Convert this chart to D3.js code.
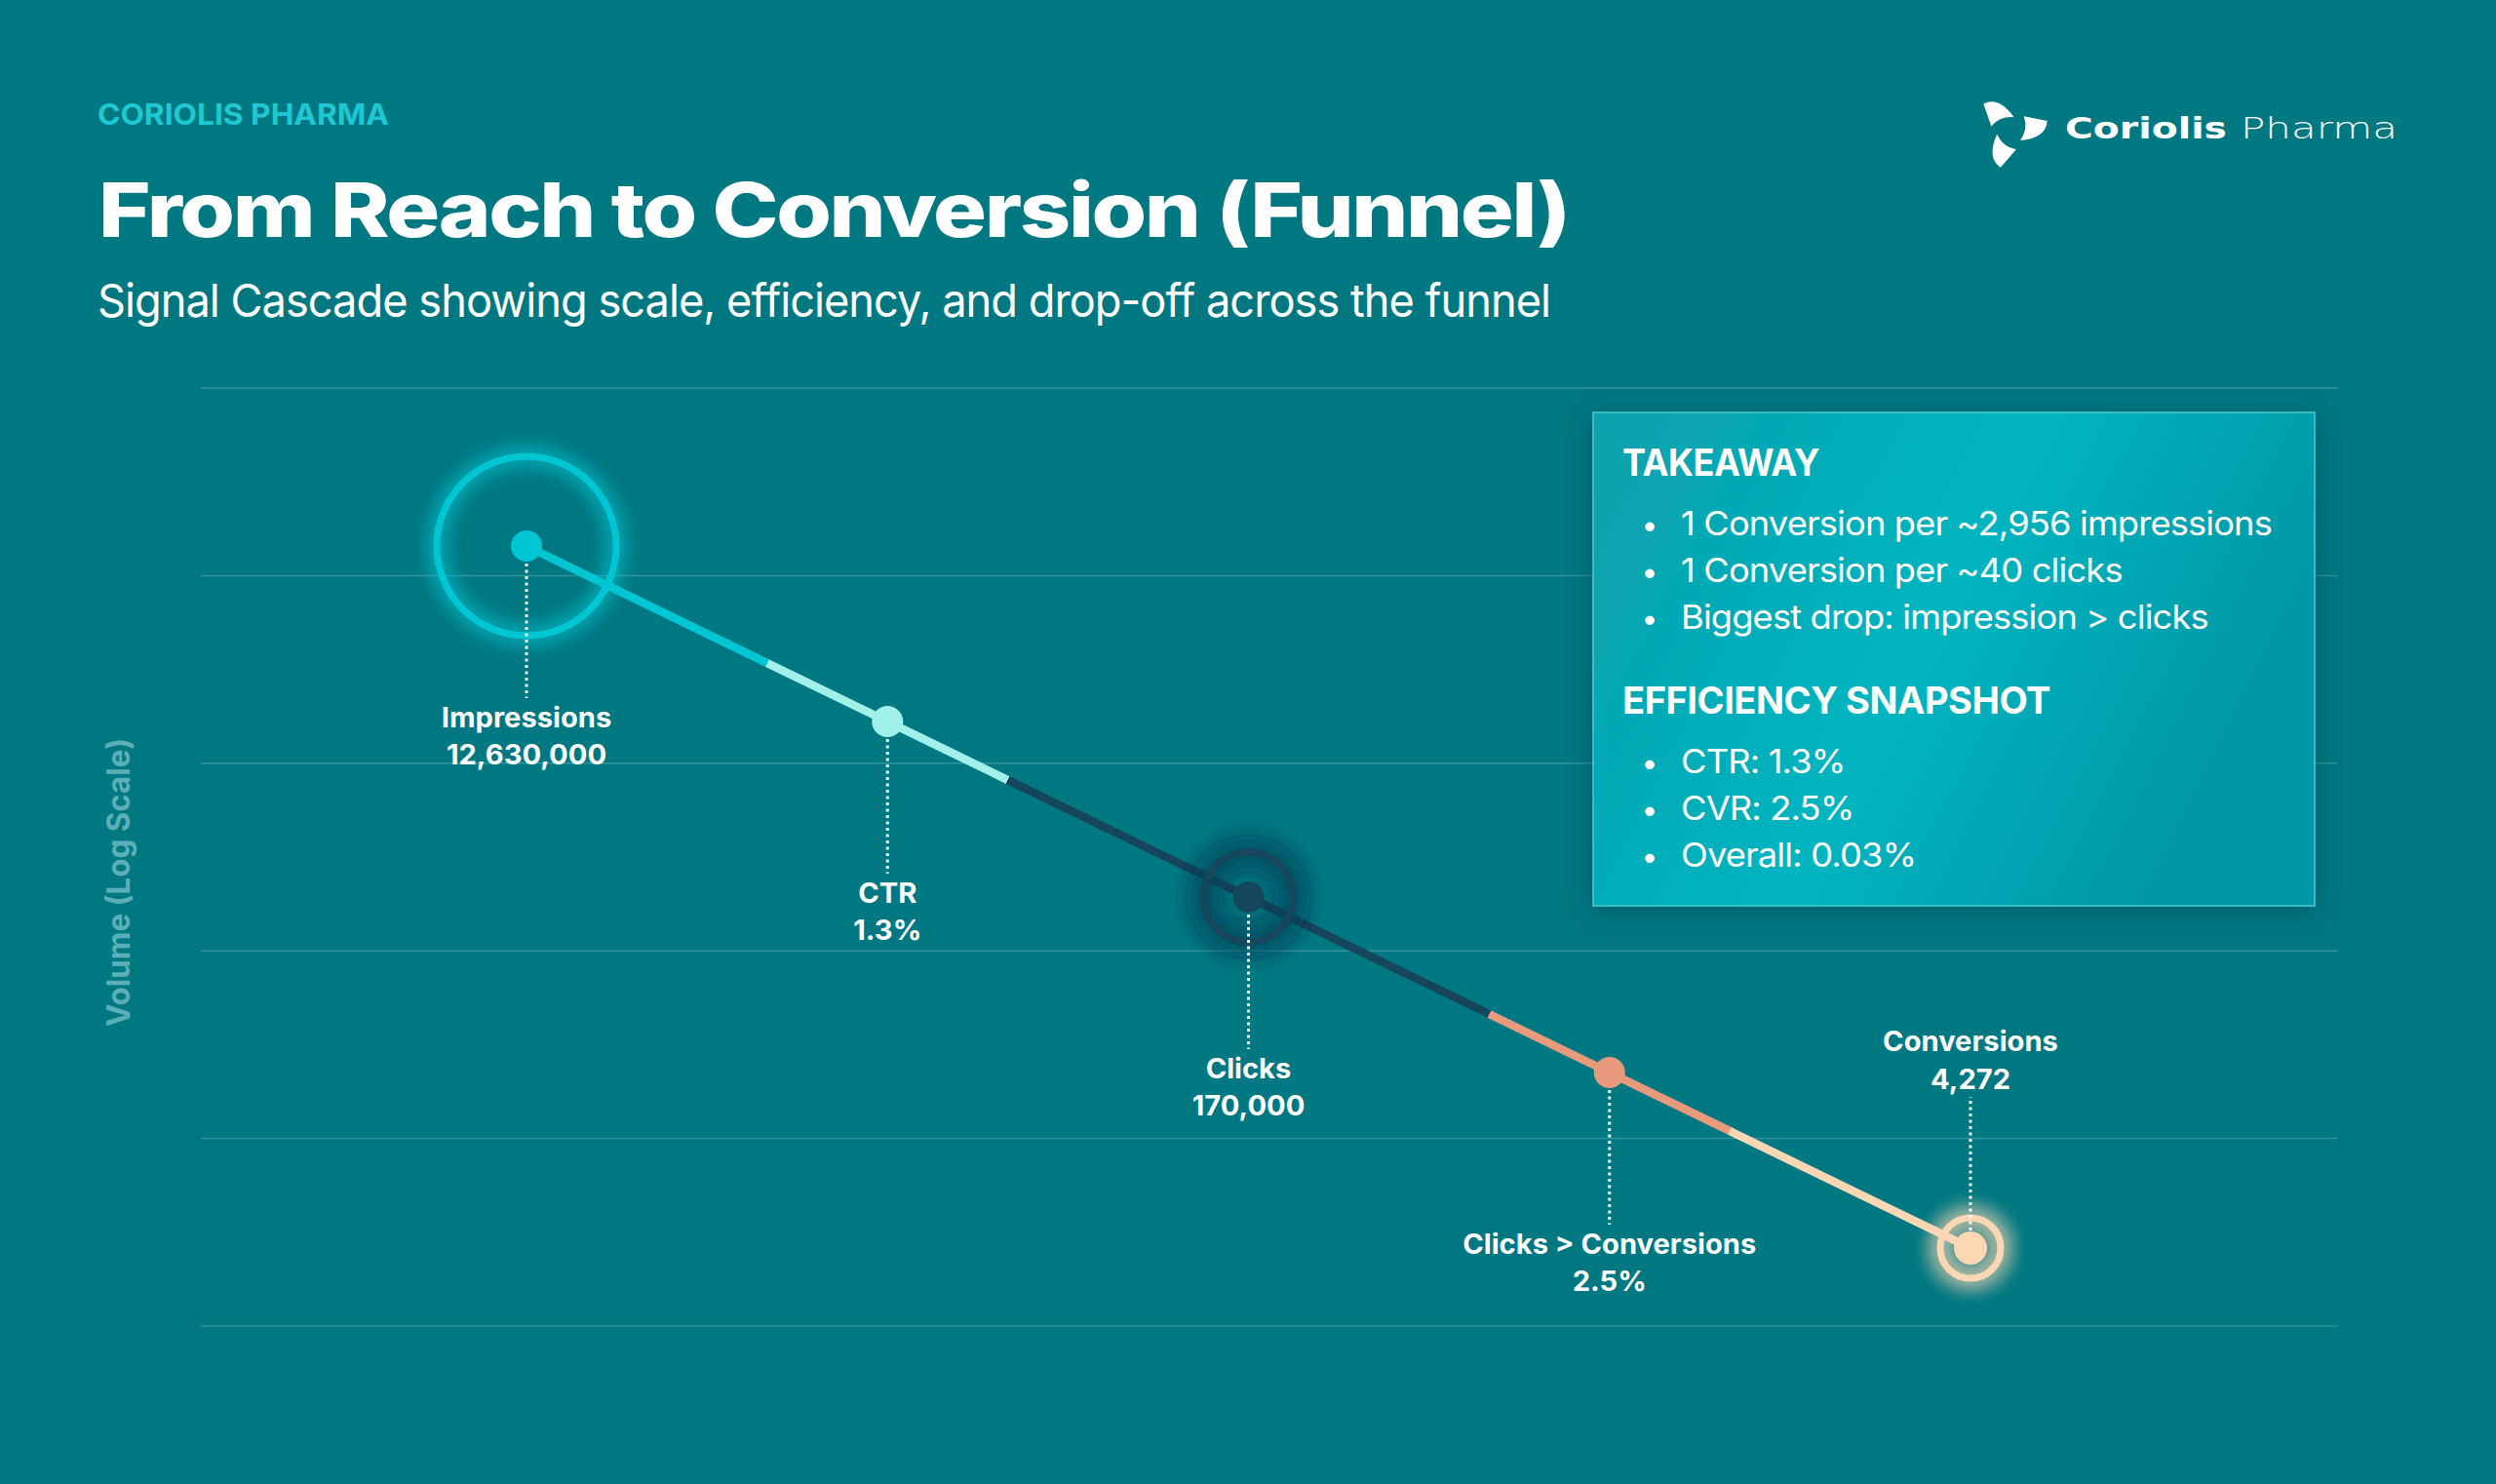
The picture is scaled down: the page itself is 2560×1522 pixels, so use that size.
<!DOCTYPE html>
<html>
<head>
<meta charset="utf-8">
<script src="https://cdn.jsdelivr.net/npm/d3@7"></script>
<style>
  html, body { margin: 0; padding: 0; background: #007882; overflow: hidden; }
  svg { display: block; }
</style>
</head>
<body>
<svg id="chart"></svg>
<script>
// funnel stages, in order
var stages = ["Impressions", "CTR", "Clicks", "Clicks > Conversions", "Conversions"];
var stageKinds = ["volume", "rate", "volume", "rate", "volume"];
var volumes = [12630000, 170000, 4272];
var stageColors = ["#00C6D3", "#A2F0EA", "#16465C", "#E99A7D", "#FBD7B4"];

var W = 2560, H = 1522;
var fmtInt = d3.format(",");
var fmtRate = d3.format(".1%");

// value shown under each stage
var vi = 0;
var stageValues = stages.map(function (s, i) {
  if (stageKinds[i] == "volume") return fmtInt(volumes[vi++]);
  var k = vi - 1;
  return fmtRate(volumes[k + 1] / volumes[k]);
});

var ctr = volumes[1] / volumes[0];
var cvr = volumes[2] / volumes[1];
var overall = volumes[2] / volumes[0];

var takeawayLines = [
  "1 Conversion per ~" + fmtInt(Math.round(volumes[0] / volumes[2])) + " impressions",
  "1 Conversion per ~" + Math.round(volumes[1] / volumes[2]) + " clicks",
  "Biggest drop: impression > clicks"
];
var snapshotLines = [
  "CTR: " + fmtRate(ctr),
  "CVR: " + fmtRate(cvr),
  "Overall: " + d3.format(".2%")(overall)
];

var svg = d3.select("#chart").attr("width", W).attr("height", H);
var defs = svg.append("defs");

svg.append("rect").attr("width", W).attr("height", H).attr("fill", "#007882");

// squeeze/stretch text horizontally so it fits the reference widths
function fitWidth(sel, w) {
  sel.attr("textLength", w).attr("lengthAdjust", "spacingAndGlyphs");
}
function scaleWidth(sel, r) {
  sel.each(function () {
    var n = this.getComputedTextLength();
    d3.select(this).attr("textLength", n * r).attr("lengthAdjust", "spacingAndGlyphs");
  });
}

// ---- header ----
var head = svg.append("text").attr("x", 100).attr("y", 128)
  .attr("font-family", "Inter").attr("font-weight", 700).attr("font-size", 30)
  .attr("fill", "#1EC8D2").text("CORIOLIS PHARMA");
fitWidth(head, 299);

var title = svg.append("text").attr("x", 101).attr("y", 243)
  .attr("font-family", "Inter").attr("font-weight", 800).attr("font-size", 77)
  .attr("letter-spacing", -2)
  .attr("fill", "#ffffff").text("From Reach to Conversion (Funnel)");
fitWidth(title, 1508);

var sub = svg.append("text").attr("x", 100).attr("y", 325)
  .attr("font-family", "Inter").attr("font-weight", 400).attr("font-size", 47)
  .attr("letter-spacing", -1)
  .attr("fill", "#ffffff").text("Signal Cascade showing scale, efficiency, and drop-off across the funnel");
fitWidth(sub, 1490);

// ---- logo ----
var logo = svg.append("g").attr("transform", "translate(2062,134)");
[0, 120, 240].forEach(function (a) {
  logo.append("path")
    .attr("d", "M15,-16 L41,-11 Q40,8 11,11 Q20,-2 15,-16 Z")
    .attr("transform", "rotate(" + a + ") scale(0.92)")
    .attr("fill", "#ffffff");
});
var lt1 = svg.append("text").attr("x", 2118).attr("y", 142)
  .attr("font-family", "DejaVu Sans").attr("font-weight", 700).attr("font-size", 31)
  .attr("fill", "#ffffff").text("Coriolis");
fitWidth(lt1, 166);
var lt2 = svg.append("text").attr("x", 2298).attr("y", 142)
  .attr("font-family", "DejaVu Sans").attr("font-weight", 200).attr("font-size", 31)
  .attr("fill", "#ffffff").text("Pharma");
fitWidth(lt2, 161);

// ---- scales ----
var x = d3.scalePoint().domain(stages).range([540, 2021]);
var y = d3.scalePoint().domain(stages).range([560, 1280]);
var grid = d3.scaleLinear().domain([0, 5]).range([398, 1360]);

svg.append("g").selectAll("line")
  .data(grid.ticks(5))
  .enter().append("line")
  .attr("x1", 206).attr("x2", 2398)
  .attr("y1", function (d) { return grid(d); })
  .attr("y2", function (d) { return grid(d); })
  .attr("stroke", "#ffffff").attr("stroke-opacity", 0.2).attr("stroke-width", 1.5);

// y axis title
var yl = svg.append("text")
  .attr("transform", "translate(133,905) rotate(-90)")
  .attr("text-anchor", "middle")
  .attr("font-family", "Inter").attr("font-weight", 700).attr("font-size", 32)
  .attr("fill", "#5BB0B7").text("Volume (Log Scale)");
fitWidth(yl, 296);

// ---- line with hard colour bands ----
var first = stages[0], last = stages[stages.length - 1];
var grad = defs.append("linearGradient").attr("id", "lineGrad")
  .attr("gradientUnits", "userSpaceOnUse")
  .attr("x1", x(first)).attr("y1", y(first))
  .attr("x2", x(last)).attr("y2", y(last));
var bands = [0, 1 / 6, 1 / 3, 2 / 3, 5 / 6, 1];
stageColors.forEach(function (c, i) {
  grad.append("stop").attr("offset", bands[i]).attr("stop-color", c);
  grad.append("stop").attr("offset", bands[i + 1]).attr("stop-color", c);
});

var line = d3.line()
  .x(function (d) { return x(d); })
  .y(function (d) { return y(d); });

svg.append("path").datum(stages)
  .attr("d", line)
  .attr("fill", "none")
  .attr("stroke", "url(#lineGrad)")
  .attr("stroke-width", 8.5);

// glow filters
function glowFilter(id, sd, n) {
  var f = defs.append("filter").attr("id", id)
    .attr("x", "-80%").attr("y", "-80%").attr("width", "260%").attr("height", "260%");
  f.append("feGaussianBlur").attr("in", "SourceGraphic").attr("stdDeviation", sd).attr("result", "b");
  var m = f.append("feMerge");
  for (var i = 0; i < n; i++) m.append("feMergeNode").attr("in", "b");
  m.append("feMergeNode").attr("in", "SourceGraphic");
}
glowFilter("glowImp", 10, 2);
glowFilter("glowClicks", 13, 4);
glowFilter("glowConv", 11, 3);

// rings round the volume stages
var ringR = { "Impressions": 92, "Clicks": 46, "Conversions": 31 };
var ringGlow = { "Impressions": "glowImp", "Clicks": "glowClicks", "Conversions": "glowConv" };
svg.append("g").selectAll("circle")
  .data(stages.filter(function (s) { return ringR[s]; }))
  .enter().append("circle")
  .attr("cx", function (d) { return x(d); })
  .attr("cy", function (d) { return y(d); })
  .attr("r", function (d) { return ringR[d]; })
  .attr("fill", "none")
  .attr("stroke", function (d) { return stageColors[stages.indexOf(d)]; })
  .attr("stroke-width", 7)
  .attr("filter", function (d) { return "url(#" + ringGlow[d] + ")"; });

// leader lines
var below = function (d) { return d != last; };
svg.append("g").selectAll("line")
  .data(stages)
  .enter().append("line")
  .attr("x1", function (d) { return x(d); })
  .attr("x2", function (d) { return x(d); })
  .attr("y1", function (d) { return y(d) + (below(d) ? 18 : -18); })
  .attr("y2", function (d) { return y(d) + (below(d) ? 156 : -155); })
  .attr("stroke", "#ffffff").attr("stroke-width", 3)
  .attr("stroke-dasharray", "3 3.5").attr("stroke-opacity", 0.95);

// dots
svg.append("g").selectAll("circle")
  .data(stages)
  .enter().append("circle")
  .attr("cx", function (d) { return x(d); })
  .attr("cy", function (d) { return y(d); })
  .attr("r", function (d) { return d == last ? 17 : 16; })
  .attr("fill", function (d, i) { return stageColors[i]; });

// labels
var lab = svg.append("g").selectAll("text")
  .data(stages)
  .enter().append("text")
  .attr("text-anchor", "middle")
  .attr("font-family", "Inter").attr("font-weight", 700).attr("font-size", 28)
  .attr("fill", "#ffffff");
lab.append("tspan")
  .attr("x", function (d) { return x(d); })
  .attr("y", function (d) { return y(d) + (below(d) ? 186 : -202); })
  .text(function (d) { return d; });
lab.append("tspan")
  .attr("x", function (d) { return x(d); })
  .attr("y", function (d) { return y(d) + (below(d) ? 224 : -163); })
  .text(function (d, i) { return stageValues[i]; });

// ---- takeaway box ----
var shadow = defs.append("filter").attr("id", "boxShadow")
  .attr("x", "-20%").attr("y", "-20%").attr("width", "140%").attr("height", "140%");
shadow.append("feDropShadow").attr("dx", 0).attr("dy", 4).attr("stdDeviation", 14)
  .attr("flood-color", "#003E45").attr("flood-opacity", 0.5);

var boxGrad = defs.append("linearGradient").attr("id", "boxGrad")
  .attr("x1", 0).attr("y1", 0).attr("x2", 1).attr("y2", 0.35);
boxGrad.append("stop").attr("offset", 0).attr("stop-color", "#0AA1AD");
boxGrad.append("stop").attr("offset", 0.55).attr("stop-color", "#00B5C0");
boxGrad.append("stop").attr("offset", 1).attr("stop-color", "#0497A7");

var box = svg.append("g");
box.append("rect")
  .attr("x", 1634).attr("y", 423).attr("width", 740).attr("height", 506)
  .attr("fill", "url(#boxGrad)")
  .attr("stroke", "#48CBD2").attr("stroke-width", 1.5)
  .attr("filter", "url(#boxShadow)");

function section(heading, hy, hw, lines, ly) {
  var h = box.append("text").attr("x", 1664).attr("y", hy)
    .attr("font-family", "Inter").attr("font-weight", 700).attr("font-size", 38)
    .attr("letter-spacing", -0.5)
    .attr("fill", "#ffffff").text(heading);
  fitWidth(h, hw);
  var g = box.append("g").selectAll("g").data(lines).enter().append("g");
  g.append("text")
    .attr("x", 1692).attr("y", function (d, i) { return ly + i * 48; })
    .attr("text-anchor", "middle")
    .attr("font-family", "Inter").attr("font-size", 30).attr("fill", "#ffffff")
    .text("\u2022");
  return g.append("text")
    .attr("x", 1724).attr("y", function (d, i) { return ly + i * 48; })
    .attr("font-family", "Inter").attr("font-weight", 400).attr("font-size", 34)
    .attr("letter-spacing", -0.8)
    .attr("fill", "#ffffff")
    .text(function (d) { return d; });
}
var t1 = section("TAKEAWAY", 488, 202, takeawayLines, 549);
var t2 = section("EFFICIENCY SNAPSHOT", 732, 439, snapshotLines, 793);

// one ratio for all bullet text, taken from the first line
var r = 606 / t1.node().getComputedTextLength();
scaleWidth(t1, r);
scaleWidth(t2, r);

// same idea for stage labels, from the widest one
var widest = lab.select("tspan").filter(function (d) { return d == "Clicks > Conversions"; });
var lr = 301 / widest.node().getComputedTextLength();
lab.selectAll("tspan").each(function () {
  var n = this.getComputedTextLength();
  d3.select(this).attr("textLength", n * lr).attr("lengthAdjust", "spacingAndGlyphs");
});
</script>
</body>
</html>
